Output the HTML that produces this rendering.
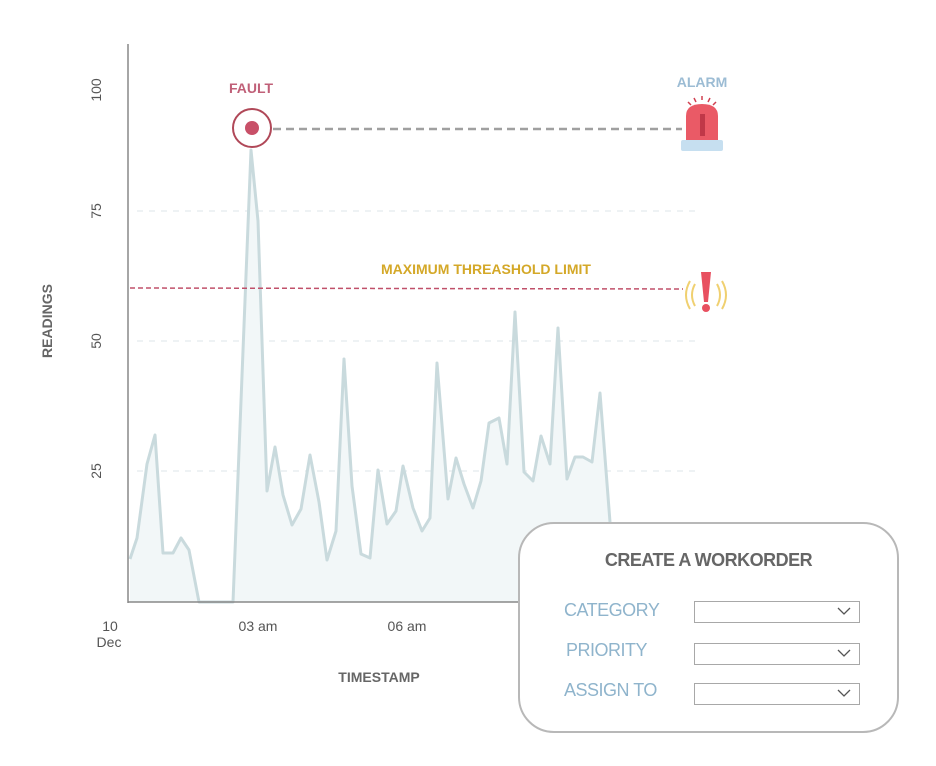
<!DOCTYPE html>
<html><head><style>
body{margin:0;background:#fff;width:936px;height:766px;overflow:hidden;position:relative;font-family:"Liberation Sans",sans-serif}
.box{position:absolute;left:518px;top:522px;width:377px;height:207px;border:2px solid #b8b8b8;border-radius:36px;background:#fff}
.lbl{position:absolute;color:#8fb4cc;font-size:18px;letter-spacing:-0.5px}
.sel{position:absolute;left:174px;width:164px;height:20px;border:1.5px solid #a8a8a8;background:#fff}
.sel svg{position:absolute;right:8px;top:5px}
</style></head><body>
<svg width="936" height="766" style="position:absolute;left:0;top:0">
<g stroke="#e8eef0" stroke-width="1.5" stroke-dasharray="6 6">
<line x1="137" y1="211" x2="695" y2="211"/><line x1="137" y1="341" x2="695" y2="341"/><line x1="137" y1="471" x2="695" y2="471"/>
</g>
<polygon fill="#f2f7f8" points="130,602 130,559 137,538 147,464 155,435 163,553 173,553 181,538 189,550 199,602 233,602 251,150 258,221 267,491 275,447 283,495 292,525 301,509 310,455 319,502 327,560 336,531 344,359 352,486 361,554 370,558 378,470 387,524 396,511 403,466 413,508 422,531 430,518 437,363 448,499 456,458 464,484 473,508 481,481 489,423 499,418 507,464 515,312 524,472 533,481 541,436 550,464 558,328 567,479 575,457 583,457 592,462 600,393 610,522 620,602"/>
<polyline fill="none" stroke="#c9dadd" stroke-width="3" stroke-linejoin="round" points="130,559 137,538 147,464 155,435 163,553 173,553 181,538 189,550 199,602 233,602 251,150 258,221 267,491 275,447 283,495 292,525 301,509 310,455 319,502 327,560 336,531 344,359 352,486 361,554 370,558 378,470 387,524 396,511 403,466 413,508 422,531 430,518 437,363 448,499 456,458 464,484 473,508 481,481 489,423 499,418 507,464 515,312 524,472 533,481 541,436 550,464 558,328 567,479 575,457 583,457 592,462 600,393 610,522 620,602"/>
<line x1="128" y1="44" x2="128" y2="603" stroke="#888" stroke-width="1.5"/>
<line x1="128" y1="602" x2="700" y2="602" stroke="#888" stroke-width="1.5"/>
<line x1="130" y1="288" x2="683" y2="289" stroke="#c0506a" stroke-width="1.5" stroke-dasharray="5 3"/>
<line x1="273" y1="129" x2="682" y2="129" stroke="#a0a0a0" stroke-width="2.5" stroke-dasharray="8 5"/>
<circle cx="252" cy="128" r="19" fill="#fff" stroke="#b04858" stroke-width="2"/>
<circle cx="252" cy="128" r="7" fill="#c85068"/>
<g font-family="Liberation Sans" font-size="14" fill="#555" text-anchor="middle">
<text transform="translate(101,90) rotate(-90)">100</text>
<text transform="translate(101,211) rotate(-90)">75</text>
<text transform="translate(101,341) rotate(-90)">50</text>
<text transform="translate(101,471) rotate(-90)">25</text>
<text x="110" y="631">10</text><text x="109" y="647">Dec</text>
<text x="258" y="631">03 am</text><text x="407" y="631">06 am</text>
</g>
<text transform="translate(52,321) rotate(-90)" text-anchor="middle" font-size="14" font-weight="bold" fill="#666">READINGS</text>
<text x="379" y="682" text-anchor="middle" font-size="14" font-weight="bold" fill="#666">TIMESTAMP</text>
<text x="251" y="93" text-anchor="middle" font-size="14" font-weight="bold" fill="#c06078">FAULT</text>
<text x="702" y="87" text-anchor="middle" font-size="14" font-weight="bold" fill="#9cbcd4">ALARM</text>
<text x="486" y="274" text-anchor="middle" font-size="14" font-weight="bold" fill="#d4a828">MAXIMUM THREASHOLD LIMIT</text>
<!-- alarm siren -->
<rect x="681" y="140" width="42" height="11" rx="2" fill="#c6dff0"/>
<path d="M686 140 L686 116 Q686 104 702 104 Q718 104 718 116 L718 140 Z" fill="#ea5a66"/>
<rect x="700" y="114" width="5" height="22" fill="#c03848"/>
<g stroke="#d04050" stroke-width="1.5"><line x1="702" y1="96" x2="702" y2="100"/><line x1="694" y1="98" x2="696" y2="102"/><line x1="710" y1="98" x2="708" y2="102"/><line x1="688" y1="102" x2="691" y2="105"/><line x1="716" y1="102" x2="713" y2="105"/></g>
<!-- exclamation -->
<path d="M701 272 L711 272 L708 302 L704 302 Z" fill="#e85060"/>
<circle cx="706" cy="308" r="4" fill="#e85060"/>
<g fill="none" stroke="#f0d070" stroke-width="2"><path d="M695 284 Q689 295 695 306"/><path d="M690 281 Q682 295 690 309"/><path d="M717 284 Q723 295 717 306"/><path d="M722 281 Q730 295 722 309"/></g>
</svg>
<div class="box">
<div style="position:absolute;left:0;right:0;top:26px;text-align:center;font-size:18px;font-weight:bold;color:#666;letter-spacing:-0.5px">CREATE A WORKORDER</div>
<div class="lbl" style="left:44px;top:76px">CATEGORY</div>
<div class="lbl" style="left:46px;top:116px">PRIORITY</div>
<div class="lbl" style="left:44px;top:156px">ASSIGN TO</div>
<div class="sel" style="top:77px"><svg width="14" height="8"><path d="M1 1 L7 7 L13 1" fill="none" stroke="#555" stroke-width="1.3"/></svg></div>
<div class="sel" style="top:119px"><svg width="14" height="8"><path d="M1 1 L7 7 L13 1" fill="none" stroke="#555" stroke-width="1.3"/></svg></div>
<div class="sel" style="top:159px"><svg width="14" height="8"><path d="M1 1 L7 7 L13 1" fill="none" stroke="#555" stroke-width="1.3"/></svg></div>
</div>
</body></html>
